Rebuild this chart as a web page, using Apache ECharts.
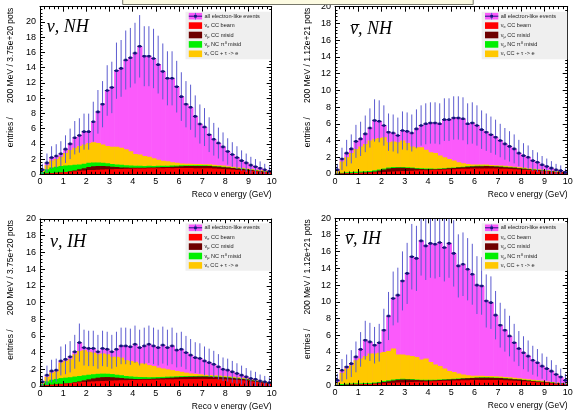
<!DOCTYPE html>
<html><head><meta charset="utf-8">
<script src="https://cdn.jsdelivr.net/npm/echarts/dist/echarts.min.js"></script>
<style>html,body{margin:0;padding:0;background:#fff}#c{width:573px;height:410px}</style>
</head><body><div id="c"></div>
<script>
// ---------- DATA (entries per 200 MeV bin, 0-10 GeV, 50 bins) ----------
const binWidthGeV = 0.2;
const nBins = 50;
const xTickLabels = [0,1,2,3,4,5,6,7,8,9,10];
const yTickLabels = [0,2,4,6,8,10,12,14,16,18,20];

// nu, NH
const totalNuNH = [0.6,1.5,2.2,2.4,2.7,3.3,4.0,4.8,5.1,5.6, 5.6,6.9,8.2,9.2,11.0,11.4,13.6,13.9,15.0,15.3, 15.9,16.8,15.5,15.5,15.2,14.4,13.5,12.6,12.6,11.5, 10.2,9.2,8.8,7.6,6.6,6.2,5.2,4.6,4.1,3.6, 3.0,2.6,2.2,1.8,1.5,1.2,1.0,0.8,0.6,0.4];
const beamNuNH = [0.05,0.1,0.15,0.2,0.25,0.3,0.35,0.4,0.45,0.5, 0.55,0.58,0.6,0.62,0.65,0.67,0.7,0.7,0.72,0.72, 0.75,0.75,0.76,0.78,0.78,0.8,0.8,0.82,0.8,0.83, 0.82,0.83,0.82,0.8,0.8,0.78,0.78,0.75,0.72,0.7, 0.66,0.62,0.58,0.54,0.5,0.45,0.4,0.35,0.3,0.25];
const ccMisNuNH = [0,0,0,0,0,0,0.05,0.1,0.2,0.3, 0.4,0.47,0.5,0.48,0.4,0.33,0.25,0.2,0.16,0.14, 0.1,0.1,0.1,0.12,0.12,0.14,0.16,0.15,0.2,0.2, 0.24,0.25,0.28,0.3,0.3,0.32,0.3,0.28,0.26,0.24, 0.22,0.2,0.18,0.16,0.12,0.1,0.08,0.06,0.05,0.04];
const ncMisNuNH = [0.25,0.55,0.75,0.8,0.85,0.85,0.8,0.75,0.65,0.6, 0.55,0.5,0.45,0.4,0.4,0.35,0.35,0.35,0.32,0.3, 0.28,0.26,0.24,0.22,0.2,0.18,0.17,0.15,0.14,0.13, 0.12,0.11,0.1,0.09,0.09,0.08,0.08,0.07,0.07,0.06, 0.06,0.05,0.05,0.05,0.04,0.04,0.03,0.03,0.03,0.02];
const tauNuNH = [0.15,0.55,0.9,1.0,1.2,1.65,2.0,2.25,2.4,2.5, 2.6,2.65,2.55,2.4,2.25,2.25,2.3,2.25,2.1,1.85, 1.55,1.5,1.3,1.2,1.0,0.8,0.65,0.6,0.45,0.35, 0.25,0.2,0.18,0.17,0.16,0.15,0.15,0.15,0.14,0.14, 0.13,0.13,0.12,0.12,0.11,0.1,0.1,0.09,0.08,0.07];

// nubar, NH
const totalNubarNH = [0.5,1.8,2.5,3.0,3.9,4.2,4.8,5.5,6.4,6.3, 5.8,5.0,4.9,4.6,5.2,5.1,4.9,5.4,5.8,6.0, 6.1,6.1,6.0,6.5,6.5,6.7,6.7,6.6,6.0,6.1, 5.8,5.3,5.0,4.7,4.4,4.0,3.6,3.3,3.0,2.5, 2.2,2.0,1.6,1.4,1.1,0.9,0.7,0.5,0.4,0.2];
const beamNubarNH = [0.03,0.06,0.08,0.1,0.12,0.14,0.16,0.18,0.2,0.22, 0.25,0.27,0.3,0.32,0.35,0.37,0.4,0.42,0.44,0.46, 0.48,0.5,0.52,0.54,0.56,0.58,0.6,0.62,0.63,0.65, 0.66,0.66,0.67,0.66,0.65,0.64,0.62,0.6,0.58,0.55, 0.52,0.48,0.44,0.4,0.36,0.32,0.27,0.22,0.18,0.12];
const ccMisNubarNH = [0,0,0,0,0,0,0.02,0.05,0.1,0.2, 0.3,0.38,0.42,0.42,0.4,0.35,0.28,0.22,0.16,0.12, 0.1,0.08,0.08,0.1,0.12,0.15,0.18,0.2,0.24,0.26, 0.28,0.28,0.28,0.26,0.24,0.22,0.2,0.18,0.16,0.14, 0.12,0.1,0.08,0.07,0.06,0.05,0.04,0.03,0.02,0.02];
const ncMisNubarNH = [0.05,0.1,0.12,0.14,0.15,0.15,0.15,0.14,0.14,0.13, 0.12,0.12,0.11,0.1,0.1,0.09,0.09,0.08,0.08,0.07, 0.07,0.06,0.06,0.06,0.06,0.06,0.05,0.05,0.05,0.05, 0.05,0.05,0.04,0.04,0.04,0.04,0.04,0.04,0.03,0.03, 0.03,0.03,0.03,0.03,0.03,0.02,0.02,0.02,0.02,0.02];
const tauNubarNH = [0.27,1.34,1.8,2.26,2.73,3.01,3.27,3.63,3.76,3.75, 3.73,3.03,3.07,2.96,3.15,2.89,2.53,2.48,2.52,2.25, 1.95,1.86,1.54,1.3,1.06,0.81,0.57,0.43,0.28,0.19, 0.15,0.14,0.14,0.13,0.13,0.12,0.12,0.11,0.11,0.1, 0.1,0.09,0.09,0.08,0.08,0.07,0.06,0.05,0.05,0.04];

// nu, IH
const totalNuIH = [0.5,1.3,1.8,1.9,3.0,3.2,3.5,4.1,5.2,4.6, 4.5,4.5,4.1,4.5,4.4,4.1,4.4,4.8,4.8,4.7, 5.0,4.6,4.8,5.0,4.8,4.6,4.9,4.6,4.8,4.3, 4.4,4.0,3.7,3.4,3.3,3.0,2.8,2.6,2.3,2.0, 1.9,1.7,1.5,1.3,1.1,0.9,0.8,0.6,0.5,0.4];
const beamNuIH = [0.05,0.1,0.15,0.2,0.25,0.3,0.35,0.4,0.45,0.5, 0.52,0.55,0.58,0.6,0.62,0.65,0.67,0.7,0.7,0.72, 0.72,0.74,0.75,0.75,0.76,0.77,0.78,0.8,0.8,0.82, 0.83,0.83,0.84,0.84,0.85,0.85,0.84,0.83,0.82,0.8, 0.78,0.75,0.72,0.68,0.64,0.55,0.48,0.4,0.34,0.27];
const ccMisNuIH = [0,0,0,0,0,0,0,0.05,0.1,0.18, 0.28,0.36,0.42,0.46,0.45,0.4,0.33,0.26,0.2,0.15, 0.12,0.1,0.1,0.1,0.12,0.14,0.16,0.18,0.2,0.22, 0.24,0.26,0.27,0.28,0.28,0.28,0.27,0.26,0.25,0.24, 0.22,0.2,0.18,0.16,0.14,0.12,0.1,0.08,0.06,0.05];
const ncMisNuIH = [0.2,0.45,0.6,0.65,0.7,0.7,0.7,0.68,0.65,0.6, 0.55,0.5,0.46,0.42,0.4,0.38,0.35,0.33,0.3,0.28, 0.26,0.24,0.22,0.2,0.18,0.17,0.15,0.14,0.13,0.12, 0.11,0.1,0.09,0.08,0.08,0.07,0.07,0.06,0.06,0.05, 0.05,0.05,0.04,0.04,0.04,0.03,0.03,0.03,0.02,0.02];
const tauNuIH = [0.1,0.55,0.85,0.9,1.85,2.0,2.15,2.67,3.0,3.02, 2.75,2.59,2.34,2.42,2.33,2.07,2.15,2.11,1.9,1.85, 1.8,1.62,1.63,1.45,1.34,1.12,1.01,0.88,0.77,0.64, 0.52,0.41,0.3,0.25,0.19,0.15,0.14,0.13,0.13,0.12, 0.12,0.11,0.1,0.1,0.09,0.08,0.07,0.06,0.05,0.04];

// nubar, IH
const totalNubarIH = [0.6,1.8,2.2,2.6,3.4,4.3,5.4,5.2,4.8,5.1, 6.6,8.3,10.4,10.8,12.5,13.4,15.4,15.2,17.3,16.7, 17.0,16.9,17.1,16.5,17.0,15.8,14.3,14.5,13.9,13.3, 12.0,11.9,10.1,9.9,8.4,7.2,6.6,5.9,5.1,4.4, 3.9,3.5,3.0,2.7,2.3,2.0,1.7,1.3,1.0,0.6];
const beamNubarIH = [0.03,0.05,0.07,0.09,0.11,0.13,0.15,0.17,0.2,0.22, 0.25,0.28,0.3,0.33,0.35,0.38,0.4,0.42,0.44,0.46, 0.48,0.5,0.52,0.53,0.55,0.56,0.58,0.6,0.61,0.62, 0.63,0.64,0.64,0.64,0.63,0.62,0.6,0.58,0.55,0.52, 0.5,0.46,0.42,0.38,0.34,0.3,0.26,0.22,0.18,0.14];
const ccMisNubarIH = [0,0,0,0,0,0,0,0,0.03,0.08, 0.15,0.22,0.28,0.32,0.33,0.3,0.26,0.2,0.16,0.12, 0.1,0.1,0.1,0.12,0.14,0.16,0.18,0.2,0.22,0.24, 0.26,0.27,0.27,0.26,0.25,0.24,0.22,0.2,0.18,0.16, 0.14,0.12,0.1,0.09,0.08,0.06,0.05,0.04,0.03,0.02];
const ncMisNubarIH = [0.05,0.1,0.12,0.13,0.13,0.13,0.12,0.12,0.12,0.11, 0.11,0.1,0.1,0.09,0.09,0.08,0.08,0.08,0.07,0.07, 0.07,0.06,0.06,0.06,0.05,0.05,0.05,0.05,0.05,0.05, 0.04,0.04,0.04,0.04,0.04,0.04,0.04,0.03,0.03,0.03, 0.03,0.03,0.03,0.02,0.02,0.02,0.02,0.02,0.02,0.02];
const tauNubarIH = [0.32,1.35,1.81,2.18,2.76,2.94,3.23,3.51,3.45,3.49, 3.49,3.5,3.72,2.96,2.93,2.84,2.76,2.7,2.43,2.55, 2.15,1.84,1.62,1.29,0.96,0.83,0.59,0.45,0.32,0.24, 0.2,0.18,0.17,0.16,0.15,0.15,0.14,0.14,0.13,0.13, 0.12,0.12,0.11,0.1,0.1,0.09,0.08,0.07,0.06,0.05];

const legendTexts = ['all electron-like events','ν{s|e} CC beam','ν{s|μ} CC misid','ν{s|μ} NC π⁰ misid','ν{s|τ} CC + τ -> e'];
const xTitle = 'Reco ν energy (GeV)';

// ---------- STYLE / LAYOUT ----------
const C = {magenta:'#fb5afb', red:'#ff0000', dark:'#6e0000', green:'#00ef00', yellow:'#ffc800', err:'#5c5cd0', mark:'#14147a'};
const FONT = '"Liberation Sans", Arial, sans-serif';
const panels = [
  {total: totalNuNH, comps:[beamNuNH, ccMisNuNH, ncMisNuNH, tauNuNH], ymax:22, label:'ν, NH', bar:false, pots:'3.75e+20',
   grid:{left:40, top:6.7, width:231.7, height:167.6}, lab:[46.7,27.3], ytx:11, leg:[185.5,11.7]},
  {total: totalNubarNH, comps:[beamNubarNH, ccMisNubarNH, ncMisNubarNH, tauNubarNH], ymax:20, label:'ν, NH', bar:true, pots:'1.12e+21',
   grid:{left:335, top:6.7, width:232.7, height:167.3}, lab:[350,29], ytx:307.5, leg:[481.7,11.7]},
  {total: totalNuIH, comps:[beamNuIH, ccMisNuIH, ncMisNuIH, tauNuIH], ymax:20, label:'ν, IH', bar:false, pots:'3.75e+20',
   grid:{left:40, top:219, width:231.7, height:167}, lab:[50,242.3], ytx:11, leg:[185.5,223.3]},
  {total: totalNubarIH, comps:[beamNubarIH, ccMisNubarIH, ncMisNubarIH, tauNubarIH], ymax:20, label:'ν, IH', bar:true, pots:'1.12e+21',
   grid:{left:335, top:218.3, width:232.7, height:167}, lab:[345,239], ytx:307.5, leg:[481.7,223.3]}
];

function rectItem(params, api){
  const p0 = api.coord([api.value(0), api.value(2)]);
  const p1 = api.coord([api.value(1), 0]);
  return {type:'rect', shape:{x:p0[0], y:p0[1], width:p1[0]-p0[0]+0.6, height:p1[1]-p0[1]},
          style:{fill: api.visual('color')}};
}
function errItem(params, api){
  const xc = api.value(0), y = api.value(1), e = api.value(2);
  const pt = api.coord([xc, y+e]), pb = api.coord([xc, Math.max(0, y-e)]);
  const pl = api.coord([api.value(3), y]), pr = api.coord([api.value(4), y]);
  return {type:'group', children:[
    {type:'line', shape:{x1:pt[0], y1:pt[1], x2:pb[0], y2:pb[1]}, style:{stroke:C.err, lineWidth:1}},
    {type:'line', shape:{x1:pl[0], y1:pl[1], x2:pr[0], y2:pr[1]}, style:{stroke:C.mark, lineWidth:1.2}},
    {type:'rect', shape:{x:pl[0]+(pr[0]-pl[0])/2-1.3, y:pl[1]-1.3, width:2.6, height:2.6}, style:{fill:C.mark}}
  ]};
}

const grids = [], xAxes = [], yAxes = [], series = [], graphics = [];
const tickStyle = {show:true, inside:true, length:5, lineStyle:{color:'#000', width:1}};
panels.forEach((p, gi) => {
  grids.push(Object.assign({outerBoundsMode:'none', containLabel:false}, p.grid));
  const xBase = {type:'value', gridIndex:gi, min:0, max:10, interval:1, z:10,
    axisLine:{show:true, onZero:false, lineStyle:{color:'#000', width:1}}, axisTick:tickStyle,
    minorTick:{show:true, splitNumber:5, length:2.5, lineStyle:{color:'#000', width:1}},
    splitLine:{show:false}, minorSplitLine:{show:false}};
  xAxes.push(Object.assign({}, xBase, {position:'bottom',
    axisLabel:{show:true, margin:3, fontSize:9, color:'#000', fontFamily:FONT, showMinLabel:true, showMaxLabel:true,
      formatter: v => xTickLabels.includes(v) ? String(v) : ''}}));
  xAxes.push(Object.assign({}, xBase, {position:'top', axisLabel:{show:false}}));
  const yBase = {type:'value', gridIndex:gi, min:0, max:p.ymax, interval:2, z:10,
    axisLine:{show:true, onZero:false, lineStyle:{color:'#000', width:1}}, axisTick:tickStyle,
    minorTick:{show:true, splitNumber:5, length:2.5, lineStyle:{color:'#000', width:1}},
    splitLine:{show:false}, minorSplitLine:{show:false}};
  yAxes.push(Object.assign({}, yBase, {position:'left',
    axisLabel:{show:true, margin:4, fontSize:9, color:'#000', fontFamily:FONT, showMinLabel:true,
      formatter: v => yTickLabels.includes(v) ? String(v) : ''}}));
  yAxes.push(Object.assign({}, yBase, {position:'right', axisLabel:{show:false}}));

  // stacked layers: cumulative tops
  const [b, c, n, t] = p.comps;
  const layers = [
    {name:'all electron-like events', color:C.magenta, top:i => p.total[i]},
    {name:'nu_tau CC', color:C.yellow, top:i => b[i]+c[i]+n[i]+t[i]},
    {name:'NC pi0 misid', color:C.green, top:i => b[i]+c[i]+n[i]},
    {name:'CC misid', color:C.dark, top:i => b[i]+c[i]},
    {name:'CC beam', color:C.red, top:i => b[i]}
  ];
  layers.forEach((L, li) => {
    const data = [];
    for (let i = 0; i < nBins; i++) data.push([i*binWidthGeV, (i+1)*binWidthGeV, L.top(i)]);
    series.push({type:'custom', name:L.name, xAxisIndex:2*gi, yAxisIndex:2*gi, clip:true, silent:true,
      itemStyle:{color:L.color}, z:2+li*0.01, renderItem:rectItem, data, animation:false});
  });
  const edata = [];
  for (let i = 0; i < nBins; i++) {
    const v = p.total[i];
    edata.push([(i+0.5)*binWidthGeV, v, Math.sqrt(v), i*binWidthGeV, (i+1)*binWidthGeV]);
  }
  series.push({type:'custom', name:'errors', xAxisIndex:2*gi, yAxisIndex:2*gi, clip:true, silent:true, z:5,
    renderItem:errItem, data:edata, animation:false});

  const gx = p.grid.left, gy = p.grid.top, gw = p.grid.width, gh = p.grid.height;
  // y title
  graphics.push({type:'text', x:p.ytx, y:gy+1, rotation:Math.PI/2, z:50,
    style:{text:'entries /      200 MeV / ' + p.pots + ' pots', font:'8.5px ' + FONT, fill:'#000', align:'right', verticalAlign:'middle'}});
  // x title
  graphics.push({type:'text', x:gx+gw, y:gy+gh+20.7, z:50,
    style:{text:xTitle, font:'8.5px ' + FONT, fill:'#000', align:'right', verticalAlign:'middle'}});
  // panel label
  graphics.push({type:'text', x:p.lab[0], y:p.lab[1], z:50,
    style:{text:p.label, font:'italic 18px "Liberation Serif", "Times New Roman", serif', fill:'#000', align:'left', verticalAlign:'middle'}});
  if (p.bar) {
    graphics.push({type:'line', shape:{x1:p.lab[0]+2, y1:p.lab[1]-4.5, x2:p.lab[0]+9.5, y2:p.lab[1]-4.5},
      style:{stroke:'#000', lineWidth:1}, z:50});
  }
  // legend
  const lx = p.leg[0], ly = p.leg[1];
  graphics.push({type:'rect', shape:{x:lx, y:ly, width:85.5, height:47.5}, style:{fill:'#efefef'}, z:60});
  const lcol = [C.magenta, C.red, C.dark, C.green, C.yellow];
  legendTexts.forEach((txt, i) => {
    const cy = ly + 4.5 + i*9.4;
    graphics.push({type:'rect', shape:{x:lx+3.3, y:cy-3.3, width:13.3, height:6.6}, style:{fill:lcol[i]}, z:61});
    if (i === 0) {
      graphics.push({type:'line', shape:{x1:lx+3.3, y1:cy, x2:lx+16.6, y2:cy}, style:{stroke:C.mark, lineWidth:1}, z:62});
      graphics.push({type:'line', shape:{x1:lx+9.95, y1:cy-3.3, x2:lx+9.95, y2:cy+3.3}, style:{stroke:C.err, lineWidth:1}, z:62});
      graphics.push({type:'rect', shape:{x:lx+8.6, y:cy-1.3, width:2.7, height:2.7}, style:{fill:C.mark}, z:62});
    }
    graphics.push({type:'text', x:lx+19, y:cy, z:62,
      style:{text:txt, font:'5.6px ' + FONT, fill:'#222', align:'left', verticalAlign:'middle',
        rich:{s:{fontSize:3.8, fontFamily:FONT, fill:'#222', padding:[3,0,0,0]}}}});
  });
});
// partially visible note box at the very top
graphics.push({type:'rect', shape:{x:122.7, y:-2, width:350.5, height:6.5}, style:{fill:'#fdfbe2', stroke:'#77776a', lineWidth:1}, z:200});

const chart = echarts.init(document.getElementById('c'), null, {renderer:'canvas'});
chart.setOption({animation:false, backgroundColor:'#fff', grid:grids, xAxis:xAxes, yAxis:yAxes, series, graphic:graphics});
</script></body></html>
